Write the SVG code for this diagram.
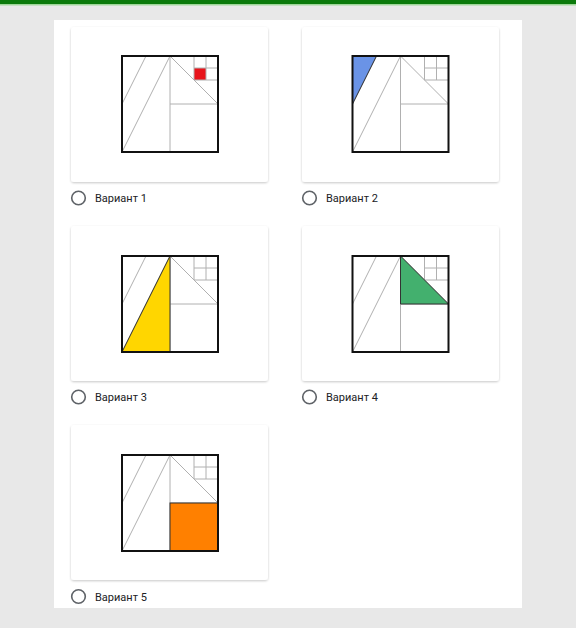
<svg xmlns="http://www.w3.org/2000/svg" xmlns:xlink="http://www.w3.org/1999/xlink" width="576" height="628" viewBox="0 0 576 628">
<style>
.card{fill:#fff;filter:url(#sh)}
.radio{fill:none;stroke:#5f6368;stroke-width:1.6}
.lbl{font-family:Roboto,"Liberation Sans",sans-serif;font-size:11px;fill:#202124}
.in{stroke:#b0b0b0;stroke-width:1;fill:none}
.out{fill:none;stroke:#111;stroke-width:2}
.hl{stroke:#333;stroke-width:1}
</style>
<defs>
<filter id="sh" x="-5%" y="-5%" width="110%" height="115%">
<feDropShadow dx="0" dy="1" stdDeviation="1.2" flood-color="#000" flood-opacity="0.22"/>
</filter>
<g id="fig">
<path class="in" d="M48 0V96M48 48H96M48 0L96 48M48 0L0 96M24 0L0 48M72 0V24M84 0V24M72 12H96M72 24H96"/>
</g>
</defs>
<rect width="576" height="628" fill="#e8e8e8"/>
<rect width="576" height="4" fill="#0b7a0b"/>
<rect y="4" width="576" height="1.5" fill="#9fd69a"/>
<rect x="54" y="20" width="468" height="588" fill="#fff"/>

<g id="opt1">
<rect class="card" x="71" y="27" width="197" height="155" rx="3"/>
<g transform="translate(122,56)">
<rect x="72" y="12" width="12" height="12" fill="#e8141b"/>
<use xlink:href="#fig"/>
<rect class="out" width="96" height="96"/>
</g>
<circle class="radio" cx="78.5" cy="198" r="6.8"/>
<text class="lbl" x="95" y="202">Вариант 1</text>
</g>

<g id="opt2">
<rect class="card" x="302" y="27" width="197" height="155" rx="3"/>
<g transform="translate(352.5,56)">
<use xlink:href="#fig"/>
<path class="hl" d="M0 0H24L0 48Z" fill="#6a93e6"/>
<rect class="out" width="96" height="96"/>
</g>
<circle class="radio" cx="309.5" cy="198" r="6.8"/>
<text class="lbl" x="326" y="202">Вариант 2</text>
</g>

<g id="opt3">
<rect class="card" x="71" y="226" width="197" height="155" rx="3"/>
<g transform="translate(122,256)">
<use xlink:href="#fig"/>
<path class="hl" d="M48 0L0 96H48Z" fill="#ffd600"/>
<rect class="out" width="96" height="96"/>
</g>
<circle class="radio" cx="78.5" cy="397" r="6.8"/>
<text class="lbl" x="95" y="401">Вариант 3</text>
</g>

<g id="opt4">
<rect class="card" x="302" y="226" width="197" height="155" rx="3"/>
<g transform="translate(352.5,256)">
<use xlink:href="#fig"/>
<path class="hl" d="M48 0L96 48H48Z" fill="#43b06e"/>
<rect class="out" width="96" height="96"/>
</g>
<circle class="radio" cx="309.5" cy="397" r="6.8"/>
<text class="lbl" x="326" y="401">Вариант 4</text>
</g>

<g id="opt5">
<rect class="card" x="71" y="425" width="197" height="155" rx="3"/>
<g transform="translate(122,455)">
<use xlink:href="#fig"/>
<rect class="hl" x="48" y="48" width="48" height="48" fill="#ff8000"/>
<rect class="out" width="96" height="96"/>
</g>
<circle class="radio" cx="78.5" cy="596.5" r="6.8"/>
<text class="lbl" x="95" y="600.5">Вариант 5</text>
</g>
<g id="connectors"/>
</svg>
